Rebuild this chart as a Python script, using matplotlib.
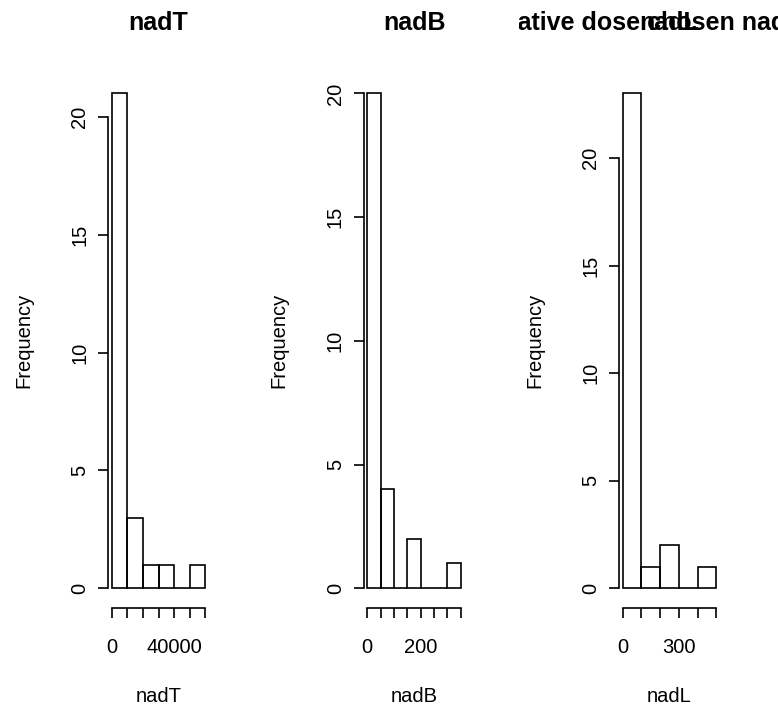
import matplotlib
matplotlib.use("Agg")
import matplotlib.pyplot as plt
from matplotlib.transforms import Bbox

plt.rcParams['font.family'] = ['Liberation Sans', 'DejaVu Sans']

# histogram data (breaks + counts)
names = ["nadT", "nadB", "nadL"]
breaks_T = [0, 10000, 20000, 30000, 40000, 50000, 60000]
counts_T = [21, 3, 1, 1, 0, 1]
breaks_B = [0, 50, 100, 150, 200, 250, 300, 350]
counts_B = [20, 4, 0, 2, 0, 0, 1]
breaks_L = [0, 100, 200, 300, 400, 500]
counts_L = [23, 1, 2, 0, 1]
yticks = [0, 5, 10, 15, 20]
xlabels_T = ["0", "", "", "", "40000", "", ""]
xlabels_B = ["0", "", "", "", "200", "", "", ""]
xlabels_L = ["0", "", "", "300", "", ""]
long_title = "Cumulative dose chosen nadir"

W, H = 778, 711
fig = plt.figure(figsize=(W / 100, H / 100), dpi=100)

panels = [(breaks_T, counts_T, xlabels_T), (breaks_B, counts_B, xlabels_B),
          (breaks_L, counts_L, xlabels_L)]
axes = []
for i, (br, ct, xl) in enumerate(panels):
    left = 108 + i * 255.5
    ax = fig.add_axes([left / W, 1 - 608 / H, 101 / W, (608 - 73.7) / H])
    widths = [b - a for a, b in zip(br[:-1], br[1:])]
    ax.bar(br[:-1], ct, width=widths, align='edge', fill=False,
           edgecolor='black', linewidth=1.2)
    span = br[-1] - br[0]
    ax.set_xlim(br[0] - 0.04 * span, br[-1] + 0.04 * span)
    ax.set_ylim(-0.04 * max(ct), 1.04 * max(ct))
    for s in ['top', 'right']:
        ax.spines[s].set_visible(False)
    ax.spines['left'].set_bounds(0, 20)
    ax.spines['bottom'].set_bounds(br[0], br[-1])
    ax.spines['left'].set_linewidth(1.2)
    ax.spines['bottom'].set_linewidth(1.2)
    ax.set_xticks(br)
    ax.set_xticklabels(xl)
    ax.set_yticks(yticks)
    ax.set_yticklabels([str(v) for v in yticks], rotation=90, va='center')
    ax.tick_params(direction='out', length=7.5, width=1.2, labelsize=14.5, pad=6)
    ax.tick_params(axis='x', pad=14)
    ax.set_xlabel(names[i], fontsize=14.5, labelpad=22)
    ax.set_ylabel("Frequency", fontsize=14.5)
    ax.yaxis.set_label_coords(-0.74, 0.5)
    fig.text((left + 50.5) / W, 1 - 23 / H, names[i], ha='center', va='center',
             fontsize=18, fontweight='bold')
    axes.append(ax)

# long title on the third panel, clipped to that panel's figure region
fig.canvas.draw()
r = fig.canvas.get_renderer()
tmp = fig.text(0, 0, "Cumul", fontsize=18, fontweight='bold')
wpre = tmp.get_window_extent(r).width
tmp.remove()
t = fig.text((518 - wpre) / W, 1 - 23 / H, long_title, ha='left', va='center',
             fontsize=18, fontweight='bold')
t.set_clip_box(Bbox([[518.7, 0], [W, H]]))
t.set_clip_on(True)

fig.savefig("out.png", dpi=100)
